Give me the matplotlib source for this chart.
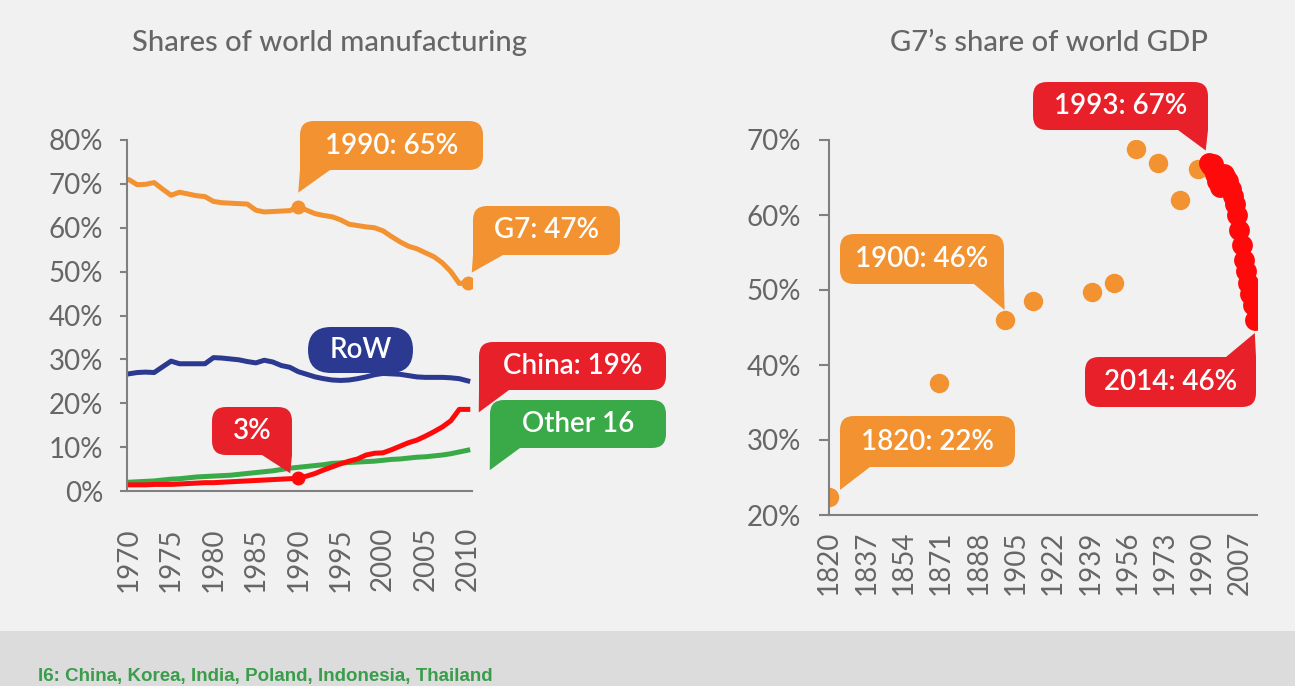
import numpy as np
import matplotlib
matplotlib.use("Agg")
import matplotlib.pyplot as plt
from matplotlib.patches import FancyBboxPatch, Polygon, Rectangle
from matplotlib.transforms import IdentityTransform

plt.rcParams['font.family'] = ['Lato', 'DejaVu Sans']

W, H = 1295, 686

# shares of world manufacturing, %
mfg_years = list(range(1970, 2011))
g7_mfg = [71.0, 69.8, 69.9, 70.3, 68.8, 67.4, 68.1, 67.7, 67.3, 67.1,
          66.0, 65.7, 65.6, 65.5, 65.4, 64.0, 63.6, 63.7, 63.8, 63.9,
          64.8, 64.0, 63.2, 62.8, 62.5, 61.8, 60.8, 60.5, 60.2, 60.0,
          59.3, 58.0, 56.8, 55.8, 55.2, 54.3, 53.4, 52.0, 50.0, 47.3, 47.5]
row_mfg = [26.7, 27.0, 27.1, 27.0, 28.3, 29.6, 29.0, 29.0, 29.0, 29.0,
           30.4, 30.3, 30.1, 29.9, 29.5, 29.2, 29.8, 29.4, 28.6, 28.2,
           27.2, 26.6, 26.0, 25.6, 25.3, 25.2, 25.3, 25.6, 26.0, 26.5,
           26.8, 26.7, 26.6, 26.3, 26.0, 25.9, 25.9, 25.9, 25.8, 25.6, 25.1]
china_mfg = [1.4, 1.4, 1.4, 1.5, 1.5, 1.5, 1.6, 1.7, 1.8, 1.9,
             1.9, 2.0, 2.1, 2.2, 2.3, 2.4, 2.5, 2.6, 2.7, 2.8,
             2.9, 3.4, 4.0, 4.8, 5.5, 6.2, 6.8, 7.3, 8.2, 8.6,
             8.7, 9.4, 10.2, 11.0, 11.6, 12.5, 13.5, 14.6, 16.0, 18.6, 18.6]
other16_mfg = [2.0, 2.1, 2.2, 2.3, 2.5, 2.7, 2.8, 3.0, 3.2, 3.3,
               3.4, 3.5, 3.6, 3.8, 4.0, 4.2, 4.4, 4.6, 4.9, 5.2,
               5.4, 5.6, 5.8, 6.0, 6.3, 6.4, 6.5, 6.6, 6.7, 6.8,
               7.0, 7.2, 7.3, 7.5, 7.7, 7.8, 8.0, 8.2, 8.5, 8.9, 9.3]

# G7 share of world GDP, %
gdp_years_old = [1820, 1870, 1900, 1913, 1940, 1950, 1960, 1970, 1980, 1988]
gdp_old = [22.4, 37.6, 46.0, 48.5, 49.8, 50.9, 68.8, 67.0, 62.0, 66.2]
gdp_years_new = list(range(1993, 2015))
gdp_new = [67.0, 66.5, 66.8, 65.5, 64.5, 63.8, 64.5, 65.5, 65.0, 64.5, 63.5,
           62.5, 61.5, 60.0, 58.0, 56.0, 54.0, 52.5, 51.0, 49.5, 48.0, 46.0]
gdp_ticks = [1820, 1837, 1854, 1871, 1888, 1905, 1922, 1939, 1956, 1973, 1990, 2007]

ORANGE = '#f39231'
RED = '#e8202a'
PURE_RED = '#ff0a0a'
NAVY = '#2b3990'
GREEN = '#3aaa49'
GREY = '#666666'
AXIS = '#808080'

fig = plt.figure(figsize=(W / 100, H / 100), dpi=100, facecolor='#f1f1f1')
fig.add_artist(Rectangle((0, 0), 1, 55 / H, transform=fig.transFigure,
                         facecolor='#dcdcdc', edgecolor='none', zorder=0))
fig.text(38 / W, 1 - 677 / H, 'I6: China, Korea, India, Poland, Indonesia, Thailand',
         color='#3a9d4c', fontsize=13.5, fontweight='bold', va='center',
         family=['Liberation Sans Narrow', 'Liberation Sans', 'DejaVu Sans'])

fig.text(330 / W, 1 - 43 / H, 'Shares of world manufacturing', color=GREY,
         fontsize=21, fontweight='medium', ha='center', va='center')
fig.text(1049 / W, 1 - 43 / H, 'G7\u2019s share of world GDP', color=GREY,
         fontsize=21, fontweight='medium', ha='center', va='center')


def style(ax):
    ax.set_facecolor('none')
    for s in ['top', 'right']:
        ax.spines[s].set_visible(False)
    for s in ['left', 'bottom']:
        ax.spines[s].set_color(AXIS)
        ax.spines[s].set_linewidth(1.5)
    ax.tick_params(colors=AXIS, labelcolor=GREY, labelsize=20, width=1.5)


def callout(ax, x, y, text, color, box, corner, off=(0, 0), pill=False, fs=20):
    x0, y0, x1, y1 = box
    bx0, bx1 = x0, x1
    by0, by1 = H - y1, H - y0
    r = (by1 - by0) / 2 if pill else 14
    tr = IdentityTransform()
    ax.figure.add_artist(FancyBboxPatch(
        (bx0, by0), bx1 - bx0, by1 - by0,
        boxstyle='round,pad=0,rounding_size=%g' % r,
        facecolor=color, edgecolor='none', transform=tr, zorder=5))
    if corner:
        px, py = ax.transData.transform((x, y))
        tip = (px + off[0], py - off[1])
        tw = 30
        if corner == 'bl':
            pts = [(bx0, by0 + r), (bx0 + tw, by0 + r), (bx0 + tw, by0), tip, (bx0, by0)]
        elif corner == 'br':
            pts = [(bx1, by0 + r), (bx1 - tw, by0 + r), (bx1 - tw, by0), tip, (bx1, by0)]
        else:  # top right
            pts = [(bx1, by1 - r), (bx1 - tw, by1 - r), (bx1 - tw, by1), tip, (bx1, by1)]
        ax.figure.add_artist(Polygon(pts, closed=True, facecolor=color,
                                     edgecolor='none', transform=tr, zorder=5))
    ax.figure.text((bx0 + bx1) / 2 / W, (by0 + by1) / 2 / H, text, color='white',
                   fontsize=fs, fontweight='semibold', ha='center', va='center',
                   zorder=6)


# ---- left: manufacturing shares
ax1 = fig.add_axes([127 / W, 1 - 491 / H, 345 / W, 351 / H])
style(ax1)
ax1.plot(mfg_years, g7_mfg, color=ORANGE, lw=3.6, solid_capstyle='round')
ax1.plot(mfg_years, row_mfg, color=NAVY, lw=3.6)
ax1.plot(mfg_years, other16_mfg, color=GREEN, lw=3.6)
ax1.plot(mfg_years, china_mfg, color=PURE_RED, lw=3.6)
i90 = mfg_years.index(1990)
ax1.plot([1990, 2010], [g7_mfg[i90], g7_mfg[-1]], 'o', color=ORANGE, ms=9)
ax1.plot([1990], [china_mfg[i90]], 'o', color=PURE_RED, ms=9)
ax1.set_xlim(1969.8, 2010.5)
ax1.set_ylim(0, 80)
ax1.set_yticks(range(0, 81, 10))
ax1.set_yticklabels(['%d%%' % v for v in range(0, 81, 10)])
ax1.set_xticks(range(1970, 2011, 5))
ax1.tick_params(axis='y', length=5, pad=12)
ax1.tick_params(axis='x', length=0, pad=26, labelrotation=90)

callout(ax1, 1990, g7_mfg[i90], '1990: 65%', ORANGE, (300, 121, 483, 170), 'bl', (0, -14))
callout(ax1, 2010, g7_mfg[-1], 'G7: 47%', ORANGE, (473, 206, 620, 255), 'bl', (4, -10))
callout(ax1, 1995, 25, 'RoW', NAVY, (308, 327, 413, 373), None, pill=True)
callout(ax1, 1990, china_mfg[i90], '3%', RED, (212, 407, 292, 455), 'br', (-8, -5))
callout(ax1, 2010, china_mfg[-1], 'China: 19%', RED, (479, 342, 666, 390), 'bl', (11, 3))
callout(ax1, 2010, other16_mfg[-1], 'Other 16', GREEN, (490, 400, 666, 448), 'bl', (22, 20))

# ---- right: G7 share of world GDP
ax2 = fig.add_axes([829 / W, 1 - 515 / H, 428 / W, 375 / H])
style(ax2)
ax2.plot(gdp_years_old, gdp_old, 'o', color=ORANGE, ms=14, mec='none')
ax2.plot(gdp_years_new, gdp_new, 'o', color=PURE_RED, ms=15, mec='none')
ax2.set_xlim(1820, 2015)
ax2.set_ylim(20, 70)
ax2.set_yticks(range(20, 71, 10))
ax2.set_yticklabels(['%d%%' % v for v in range(20, 71, 10)])
ax2.set_xticks(gdp_ticks)
ax2.tick_params(axis='y', length=7, pad=13)
ax2.tick_params(axis='x', length=0, pad=11, labelrotation=90)

callout(ax2, 1993, gdp_new[0], '1993: 67%', RED, (1033, 82, 1208, 130), 'br', (-3, -12))
callout(ax2, 1900, gdp_old[2], '1900: 46%', ORANGE, (840, 234, 1004, 284), 'br', (0, -10))
callout(ax2, 2014, gdp_new[-1], '2014: 46%', RED, (1085, 357, 1256, 407), 'tr', (0, 13))
callout(ax2, 1820, gdp_old[0], '1820: 22%', ORANGE, (840, 416, 1015, 467), 'bl', (11, -7))

fig.savefig('out.png', dpi=100, facecolor=fig.get_facecolor())
